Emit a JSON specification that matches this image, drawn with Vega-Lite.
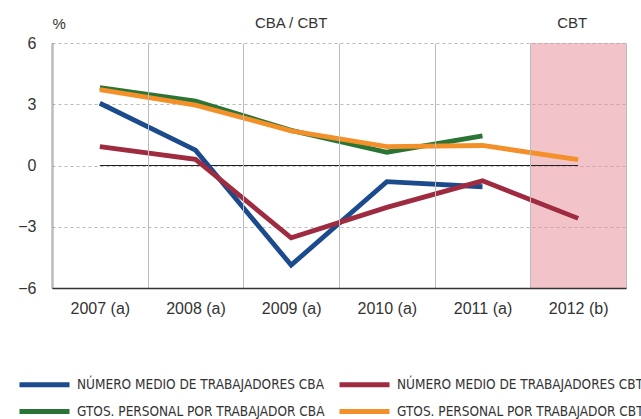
{
  "$schema": "https://vega.github.io/schema/vega-lite/v6.json",
  "width": 574,
  "height": 245,
  "autosize": "none",
  "padding": {"left": 52, "top": 43, "right": 15, "bottom": 131},
  "config": {
    "view": {"stroke": null},
    "font": "Liberation Sans, Arial, sans-serif",
    "axisX": {
      "grid": true, "gridColor": "#bbbbbb", "gridWidth": 1,
      "tickBand": "extent", "domainColor": "#333333", "domainWidth": 1.5,
      "ticks": false, "labelFontSize": 16, "labelPadding": 12, "labelColor": "#333333", "labelAngle": 0
    },
    "axisY": {
      "grid": true, "gridColor": "#bbbbbb", "gridDash": [3, 3], "gridWidth": 1,
      "domainColor": "#333333", "domainWidth": 1.5, "ticks": false,
      "labelFontSize": 16, "labelPadding": 16, "labelColor": "#333333",
      "titleAngle": 0, "titleAlign": "left", "titleX": 0, "titleY": -15,
      "titleBaseline": "alphabetic", "titleFontSize": 15, "titleFontWeight": "normal", "titleColor": "#333333"
    }
  },
  "datasets": {
    "series": [
      {"year": "2007 (a)", "serie": "NÚMERO MEDIO DE TRABAJADORES CBA", "v": 3.05},
      {"year": "2008 (a)", "serie": "NÚMERO MEDIO DE TRABAJADORES CBA", "v": 0.75},
      {"year": "2009 (a)", "serie": "NÚMERO MEDIO DE TRABAJADORES CBA", "v": -4.88},
      {"year": "2010 (a)", "serie": "NÚMERO MEDIO DE TRABAJADORES CBA", "v": -0.79},
      {"year": "2011 (a)", "serie": "NÚMERO MEDIO DE TRABAJADORES CBA", "v": -1.04},
      {"year": "2007 (a)", "serie": "NÚMERO MEDIO DE TRABAJADORES CBT", "v": 0.92},
      {"year": "2008 (a)", "serie": "NÚMERO MEDIO DE TRABAJADORES CBT", "v": 0.3},
      {"year": "2009 (a)", "serie": "NÚMERO MEDIO DE TRABAJADORES CBT", "v": -3.54},
      {"year": "2010 (a)", "serie": "NÚMERO MEDIO DE TRABAJADORES CBT", "v": -2.05},
      {"year": "2011 (a)", "serie": "NÚMERO MEDIO DE TRABAJADORES CBT", "v": -0.75},
      {"year": "2012 (b)", "serie": "NÚMERO MEDIO DE TRABAJADORES CBT", "v": -2.59},
      {"year": "2007 (a)", "serie": "GTOS. PERSONAL POR TRABAJADOR CBA", "v": 3.82},
      {"year": "2008 (a)", "serie": "GTOS. PERSONAL POR TRABAJADOR CBA", "v": 3.16},
      {"year": "2009 (a)", "serie": "GTOS. PERSONAL POR TRABAJADOR CBA", "v": 1.72},
      {"year": "2010 (a)", "serie": "GTOS. PERSONAL POR TRABAJADOR CBA", "v": 0.65},
      {"year": "2011 (a)", "serie": "GTOS. PERSONAL POR TRABAJADOR CBA", "v": 1.45},
      {"year": "2007 (a)", "serie": "GTOS. PERSONAL POR TRABAJADOR CBT", "v": 3.72},
      {"year": "2008 (a)", "serie": "GTOS. PERSONAL POR TRABAJADOR CBT", "v": 2.96},
      {"year": "2009 (a)", "serie": "GTOS. PERSONAL POR TRABAJADOR CBT", "v": 1.7},
      {"year": "2010 (a)", "serie": "GTOS. PERSONAL POR TRABAJADOR CBT", "v": 0.92},
      {"year": "2011 (a)", "serie": "GTOS. PERSONAL POR TRABAJADOR CBT", "v": 0.98},
      {"year": "2012 (b)", "serie": "GTOS. PERSONAL POR TRABAJADOR CBT", "v": 0.29}
    ]
  },
  "layer": [
    {
      "data": {"values": [{"year": "2012 (b)", "lo": -6, "hi": 6}]},
      "mark": {"type": "rect", "fill": "#E58995", "opacity": 0.5},
      "encoding": {
        "x": {"field": "year", "type": "nominal", "axis": {"title": null},
              "scale": {"type": "band", "paddingInner": 0, "paddingOuter": 0, "domain": ["2007 (a)", "2008 (a)", "2009 (a)", "2010 (a)", "2011 (a)", "2012 (b)"]}},
        "y": {"field": "lo", "type": "quantitative", "axis": {"title": "%", "values": [-6, -3, 0, 3, 6]}, "scale": {"domain": [-6, 6], "nice": false, "zero": false}},
        "y2": {"field": "hi"}
      }
    },
    {
      "data": {"values": [{"from": "2007 (a)", "to": "2012 (b)", "v": 0}]},
      "mark": {"type": "rule", "color": "#222222", "strokeWidth": 1.2},
      "encoding": {
        "x": {"field": "from", "type": "nominal", "bandPosition": 0.5, "axis": {"title": null}},
        "x2": {"field": "to", "bandPosition": 0.5},
        "y": {"field": "v", "type": "quantitative", "axis": {"title": "%", "values": [-6, -3, 0, 3, 6]}}
      }
    },
    {
      "data": {"name": "series"},
      "mark": {"type": "line", "strokeWidth": 4.8},
      "encoding": {
        "x": {"field": "year", "type": "nominal", "axis": {"title": null}},
        "y": {"field": "v", "type": "quantitative", "axis": {"title": "%", "values": [-6, -3, 0, 3, 6]}},
        "color": {
          "field": "serie", "type": "nominal",
          "scale": {
            "domain": ["NÚMERO MEDIO DE TRABAJADORES CBA", "GTOS. PERSONAL POR TRABAJADOR CBA", "NÚMERO MEDIO DE TRABAJADORES CBT", "GTOS. PERSONAL POR TRABAJADOR CBT"],
            "range": ["#1B4A8D", "#2A7436", "#9E2B40", "#F4902A"]
          },
          "legend": {
            "title": null, "orient": "none", "legendX": -20, "legendY": 329,
            "columns": 2, "symbolType": "M-2.5,0H2.5", "symbolSize": 400, "symbolStrokeWidth": 5,
            "labelFont": "Liberation Sans Narrow, DejaVu Sans Condensed, sans-serif",
            "labelFontSize": 13.5, "labelColor": "#333333", "labelOffset": 20,
            "columnPadding": 4, "rowPadding": 4, "labelLimit": 400
          }
        }
      }
    },
    {
      "data": {"values": [{"year": "2009 (a)", "v": 6.74, "label": "CBA / CBT"}]},
      "mark": {"type": "text", "fontSize": 15, "fontWeight": "normal", "color": "#333333", "baseline": "alphabetic", "align": "center"},
      "encoding": {
        "x": {"field": "year", "type": "nominal", "axis": {"title": null}},
        "y": {"field": "v", "type": "quantitative", "axis": {"title": "%", "values": [-6, -3, 0, 3, 6]}},
        "text": {"field": "label"}
      }
    },
    {
      "data": {"values": [{"year": "2012 (b)", "v": 6.74, "label": "CBT"}]},
      "mark": {"type": "text", "fontSize": 15, "fontWeight": "normal", "color": "#333333", "baseline": "alphabetic", "align": "center", "dx": -6},
      "encoding": {
        "x": {"field": "year", "type": "nominal", "axis": {"title": null}},
        "y": {"field": "v", "type": "quantitative", "axis": {"title": "%", "values": [-6, -3, 0, 3, 6]}},
        "text": {"field": "label"}
      }
    }
  ]
}
